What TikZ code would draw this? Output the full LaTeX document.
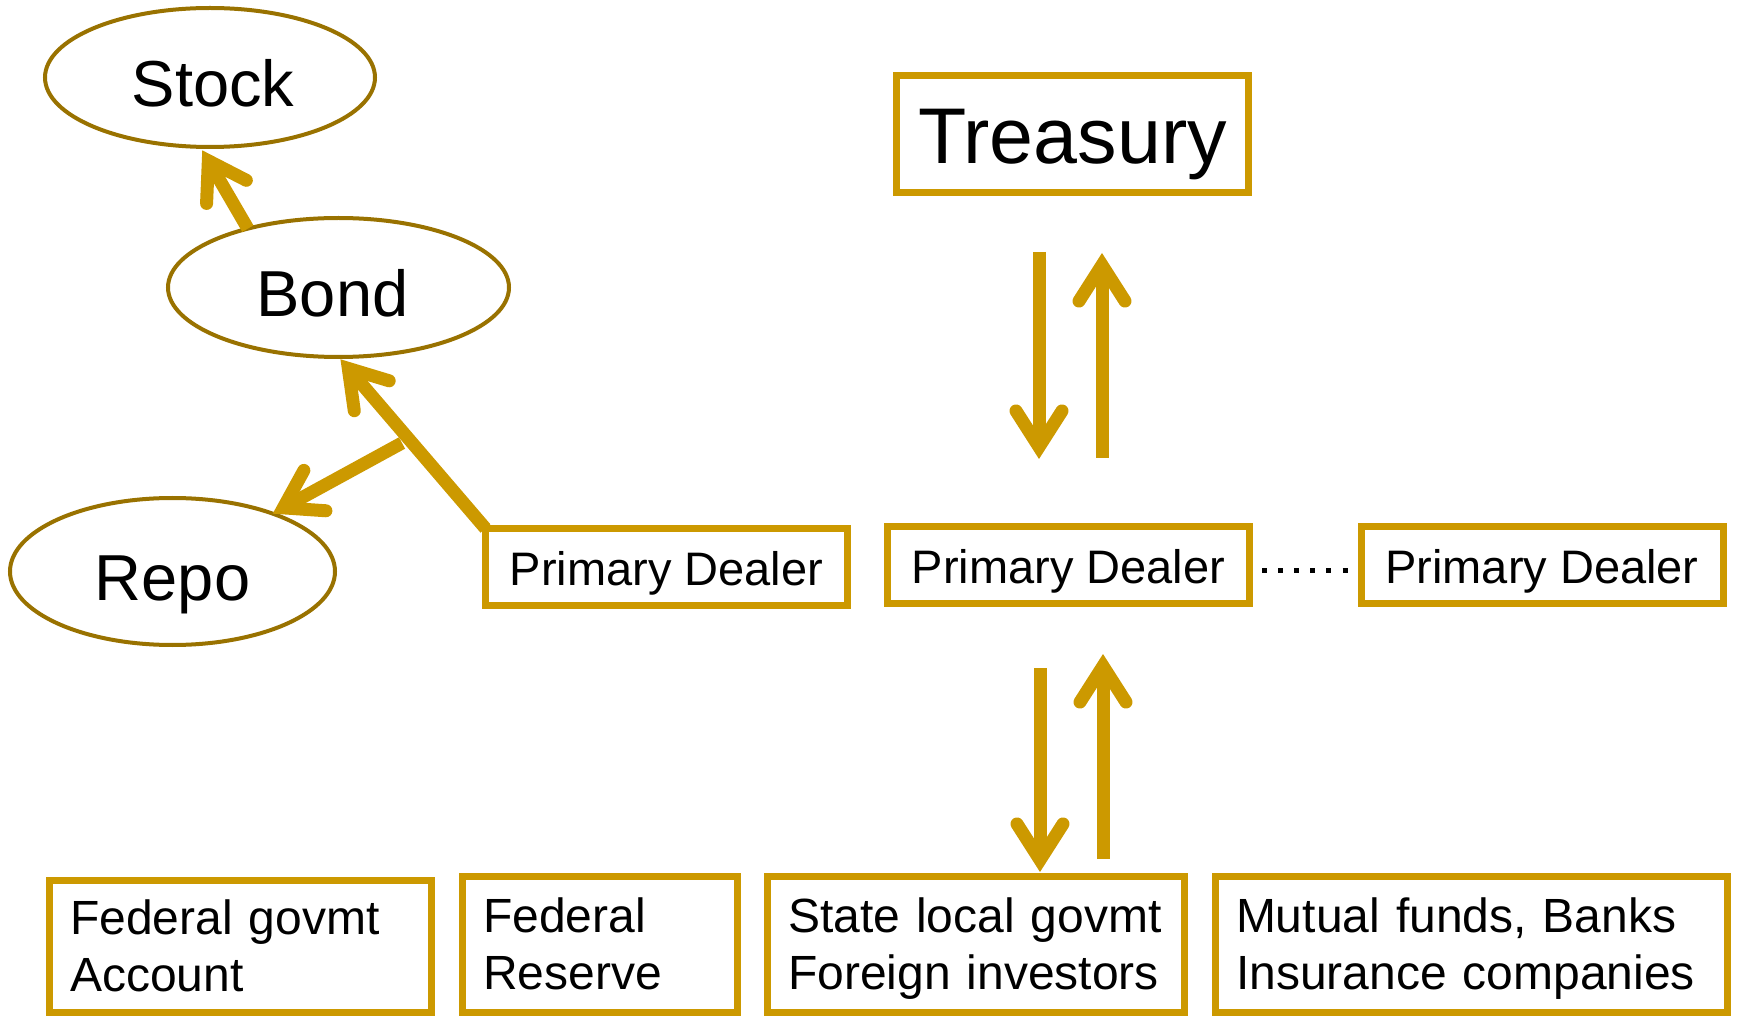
\documentclass[tikz,border=0pt]{standalone}
\usepackage{fontspec}
\setmainfont{Liberation Sans}
\usetikzlibrary{arrows.meta,calc,shapes.geometric}
\definecolor{gold}{RGB}{204,153,0}
\definecolor{ovalline}{RGB}{153,114,0}
\newcommand\firstln{\rule{0pt}{22.5pt}}
\newcommand\lastln{\rule[-5.5pt]{0pt}{5.5pt}}
\tikzset{
  oval/.style={ellipse, draw=ovalline, line width=2pt, outer sep=0pt, inner sep=0pt,
    font=\fontsize{32.5pt}{36pt}\selectfont, text height=29pt, text depth=0pt},
  pbox/.style={rectangle, draw=gold, line width=3.5pt, outer sep=0pt, inner sep=0pt,
    minimum width=181pt, minimum height=38.5pt,
    font=\fontsize{23.5pt}{28pt}\selectfont, text height=18pt, text depth=0pt},
  tbox/.style={rectangle, draw=gold, line width=3.5pt, outer sep=0pt, inner sep=0pt,
    minimum width=176pt, minimum height=58.5pt,
    font=\fontsize{39.5pt}{44pt}\selectfont, text height=29.3pt, text depth=0pt},
  bbox/.style={rectangle, draw=gold, line width=3.5pt, outer sep=0pt,
    inner xsep=10.5pt, inner ysep=0pt, anchor=north west, align=left,
    font=\fontsize{24pt}{28.5pt}\selectfont},
  arr/.style={draw=gold, line width=6.5pt,
    -{Straight Barb[length=18pt,width=23pt,line cap=round,line join=miter]}},
  dotline/.style={draw=black, line width=2.5pt, dash pattern=on 2.5pt off 5.55pt}
}
\begin{document}
\begin{tikzpicture}[x=0.5pt,y=-0.5pt]
\useasboundingbox (0,0) rectangle (1737,1016);
% ellipses
\node[oval, minimum width=165pt, minimum height=69.5pt] (stock) at (210,77.5) {\hspace*{3pt}Stock};
\node[oval, minimum width=170.5pt, minimum height=69.5pt] (bond) at (338.5,287.5) {Bond\hspace*{6pt}};
\node[oval, minimum width=162.5pt, minimum height=73.5pt] (repo) at (172.5,571.5) {Repo};
% boxes
\node[tbox] (treasury) at (1072.5,134) {Treasury};
\node[pbox] (pd1) at (666.5,567) {Primary Dealer};
\node[pbox] (pd2) at (1068.5,565) {Primary Dealer};
\node[pbox] (pd3) at (1542,565) {Primary Dealer};
\node[bbox, minimum width=191pt, text width=170pt, minimum height=66pt] (b1) at (49,880) {\firstln Federal govmt\\Account\lastln};
\node[bbox, minimum width=137.5pt, text width=116.5pt, minimum height=68pt] (b2) at (462,876) {\firstln Federal\\Reserve\lastln};
\node[bbox, minimum width=208.5pt, text width=187.5pt, minimum height=68pt] (b3) at (767,876) {\firstln State local govmt\\Foreign investors\lastln};
\node[bbox, minimum width=256pt, text width=235pt, minimum height=68pt] (b4) at (1215,876) {\firstln Mutual funds, Banks\\Insurance companies\lastln};
% left arrows
\draw[arr, shorten >=2pt] (bond.147) -- (stock.262);
\draw[arr, shorten >=1.5pt] (pd1.north west) -- (bond.south);
\coordinate (split) at (402,443);
\draw[arr] (split) -- (repo.30);
% treasury <-> dealer
\coordinate (t1) at ($(treasury.south)+(-33.5,59.5)$);
\coordinate (t2) at ($(treasury.south)+(29.5,60.5)$);
\draw[arr] (t1) -- ($(pd2.north)+(-29.5,-67.5)$);
\draw[arr] ($(pd2.north)+(33.5,-68.5)$) -- (t2);
% dealer <-> investors
\coordinate (l1) at ($(pd2.south)+(-28.5,64.5)$);
\coordinate (l2) at ($(pd2.south)+(34.5,50.5)$);
\draw[arr, shorten >=2pt] (l1) -- (l1 |- b3.north);
\draw[arr, shorten <=8.5pt] (l2 |- b3.north) -- (l2);
% dots
\draw[dotline] ($(pd2.east)+(12.5,5)$) -- ($(pd3.west)+(-13.5,5)$);
\end{tikzpicture}
\end{document}
